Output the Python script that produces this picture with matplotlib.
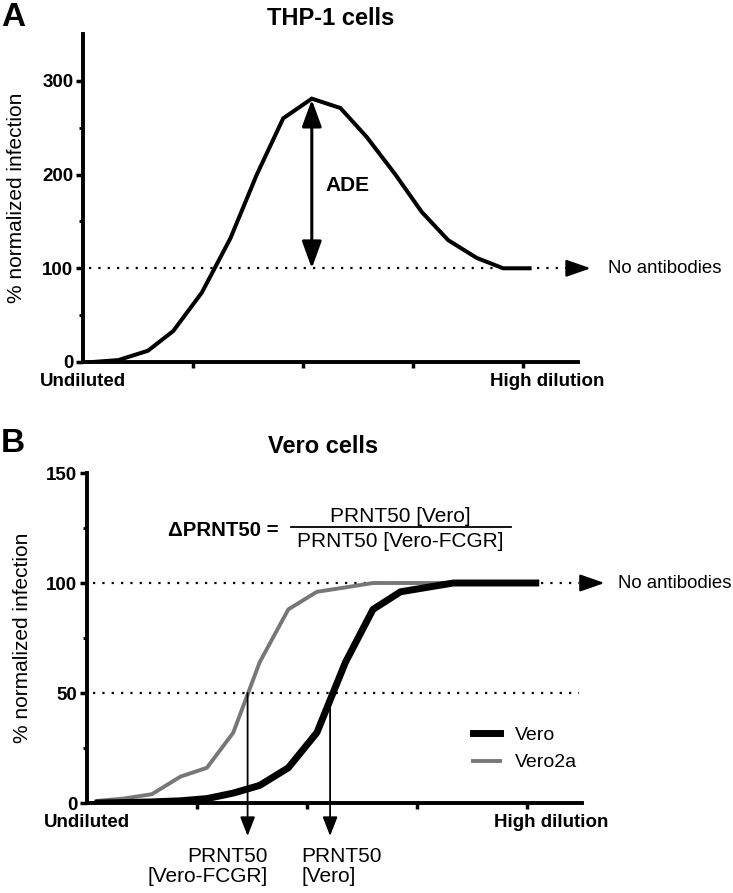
import matplotlib
matplotlib.use('Agg')
import matplotlib.pyplot as plt

plt.rcParams['font.family'] = ['Liberation Sans', 'DejaVu Sans']

# panel A: THP-1 cells (x in dilution-tick units)
thp_x = [0.09, 0.32, 0.59, 0.82, 1.08, 1.34, 1.58, 1.82, 2.08, 2.34, 2.58, 2.84,
         3.08, 3.32, 3.58, 3.82, 4.06]
thp_y = [0, 2, 12, 33, 74, 132, 200, 260, 281, 271, 240, 200, 160, 130, 111, 100, 100]

# panel B: Vero cells
vero_x = [0.1, 0.33, 0.59, 0.85, 1.09, 1.33, 1.57, 1.83, 2.09, 2.35, 2.6, 2.85,
          3.09, 3.33, 3.58, 3.83, 4.08]
vero_y = [0, 0.2, 0.5, 1, 2, 4.5, 8, 16, 32, 64, 88, 96, 98, 100, 100, 100, 100]
vero2a_y = [1, 2, 4, 12, 16, 32, 64, 88, 96, 98, 100, 100, 100, 100, 100, 100, 100]

x_ticks = [1, 2, 3, 4]
W, H = 733, 893

fig = plt.figure(figsize=(W / 100, H / 100), dpi=100)
axA = fig.add_axes([83 / W, 1 - 362 / H, 495 / W, 328 / H])
axB = fig.add_axes([87 / W, 1 - 803 / H, 495 / W, 330 / H])


def style(ax, ymax, major, minor):
    for s in ['top', 'right']:
        ax.spines[s].set_visible(False)
    for s in ['left', 'bottom']:
        ax.spines[s].set_linewidth(2.8)
    ax.set_xlim(0, 4.5)
    ax.set_ylim(0, ymax)
    ax.set_xticks(x_ticks)
    ax.set_xticklabels([])
    ax.set_yticks(major)
    ax.set_yticks(minor, minor=True)
    ax.tick_params(axis='y', which='major', length=5, width=2.5, pad=2, labelsize=13.5)
    ax.tick_params(axis='y', which='minor', length=3, width=2)
    ax.tick_params(axis='x', which='major', length=4, width=2.5)
    for lab in ax.get_yticklabels():
        lab.set_fontweight('bold')
    ax.set_ylabel('% normalized infection', fontsize=15)
    ax.text(0, -0.058, 'Undiluted', transform=ax.get_xaxis_transform(),
            ha='center', va='center', fontsize=13.5, fontweight='bold')
    ax.text(4.22, -0.058, 'High dilution', transform=ax.get_xaxis_transform(),
            ha='center', va='center', fontsize=13.5, fontweight='bold')


# ---- A
style(axA, 350, [0, 100, 200, 300], [50, 150, 250])
axA.yaxis.set_label_coords(-0.115, 0.5)
axA.plot([0.05, 4.47], [100, 100], color='black', lw=1.6, ls=(0, (1, 3.2)), clip_on=False)
axA.plot(thp_x, thp_y, color='black', lw=2.9, solid_joinstyle='miter')
axA.annotate('', xy=(4.64, 100), xytext=(4.45, 100), annotation_clip=False,
             arrowprops=dict(arrowstyle='-|>,head_length=1.0,head_width=0.35',
                             mutation_scale=15, color='black', lw=1.6))
axA.text(4.77, 100, 'No antibodies', fontsize=13.4, va='center', clip_on=False)
axA.annotate('', xy=(2.08, 280), xytext=(2.08, 100),
             arrowprops=dict(arrowstyle='<|-|>,head_length=1.1,head_width=0.4',
                             mutation_scale=15, color='black', lw=2.2,
                             shrinkA=0, shrinkB=0))
axA.text(2.2, 188, 'ADE', fontsize=15, fontweight='bold', va='center')

# ---- B
style(axB, 150, [0, 50, 100, 150], [25, 75, 125])
axB.yaxis.set_label_coords(-0.111, 0.5)
axB.plot([0.05, 4.47], [100, 100], color='black', lw=1.6, ls=(0, (1, 3.2)), clip_on=False)
axB.plot([0.05, 4.47], [50, 50], color='black', lw=1.6, ls=(0, (1, 3.2)), clip_on=False)
axB.plot(vero_x, vero2a_y, color='#777777', lw=2.8, label='Vero2a', zorder=3)
axB.plot(vero_x, vero_y, color='black', lw=5, label='Vero', zorder=4)
axB.annotate('', xy=(4.73, 100), xytext=(4.5, 100), annotation_clip=False,
             arrowprops=dict(arrowstyle='-|>,head_length=1.0,head_width=0.35',
                             mutation_scale=15, color='black', lw=1.6))
axB.text(4.83, 100, 'No antibodies', fontsize=13.4, va='center', clip_on=False)

for xa in [1.46, 2.21]:
    axB.annotate('', xy=(xa, -15), xytext=(xa, 50), annotation_clip=False,
                 arrowprops=dict(arrowstyle='-|>,head_length=0.9,head_width=0.35',
                                 mutation_scale=13, color='black', lw=1.3,
                                 shrinkA=0, shrinkB=0))
axB.text(1.64, -20, 'PRNT50\n[Vero-FCGR]', ha='right', va='top', fontsize=15,
         multialignment='right', clip_on=False, linespacing=1.05)
axB.text(1.95, -20, 'PRNT50\n[Vero]', ha='left', va='top', fontsize=15,
         multialignment='left', clip_on=False, linespacing=1.05)

axB.text(1.74, 121.4, '\u0394PRNT50 =', ha='right', va='baseline', fontsize=14.7,
         fontweight='bold')
axB.plot([1.85, 3.85], [125.5, 125.5], color='black', lw=1.3)
axB.text(2.85, 127.6, 'PRNT50 [Vero]', ha='center', va='baseline', fontsize=15)
axB.text(2.85, 116.4, 'PRNT50 [Vero-FCGR]', ha='center', va='baseline', fontsize=15)

h, l = axB.get_legend_handles_labels()
axB.legend(h[::-1], l[::-1], loc='upper left', bbox_to_anchor=(0.745, 0.285),
           frameon=False, fontsize=14, handlelength=1.4, handletextpad=0.75,
           labelspacing=0.5)

fig.text(331 / W, 1 - 25 / H, 'THP-1 cells', ha='center', va='baseline',
         fontsize=17, fontweight='bold')
fig.text(323 / W, 1 - 453 / H, 'Vero cells', ha='center', va='baseline',
         fontsize=17, fontweight='bold')
fig.text(1 / W, 1 - 26 / H, 'A', ha='left', va='baseline', fontsize=24,
         fontweight='bold')
fig.text(1 / W, 1 - 452 / H, 'B', ha='left', va='baseline', fontsize=24,
         fontweight='bold')

fig.savefig('out.png', dpi=100)
